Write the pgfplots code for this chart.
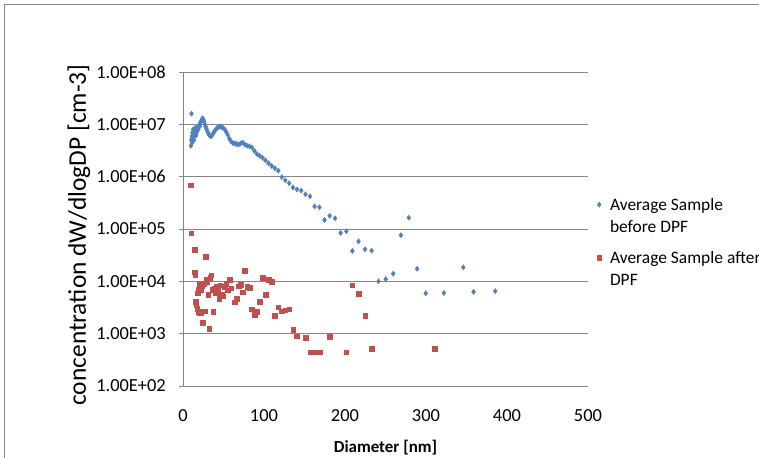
\documentclass[border=0pt]{standalone}
\usepackage{fontspec}
\setmainfont{Carlito}
\usepackage{pgfplots}
\pgfplotsset{compat=1.18}
\definecolor{bl}{HTML}{4F81BD}
\definecolor{rd}{HTML}{C0504D}
\definecolor{gr}{HTML}{868686}
\newcommand\lstrut{\rule[-6.6bp]{0pt}{22bp}}
\newcommand\lgap{\rule[-15.6bp]{0pt}{31bp}}
\begin{document}
\begin{tikzpicture}[x=1bp,y=1bp]
\clip (0,0) rectangle (759,458);
\fill[white] (0,0) rectangle (759,458);
\draw[gr, line width=1bp] (4,-10) -- (4,453) -- (770,453);
\begin{axis}[
  at={(183bp,72bp)}, anchor=south west,
  scale only axis, width=405bp, height=314bp,
  xmin=0, xmax=500, ymode=log, ymin=1e2, ymax=1e8,
  axis x line=bottom, axis y line=left,
  axis line style={-, draw=gr, line width=0.75bp},
  xtick={0,100,200,300,400,500},
  xticklabels={0,100,200,300,400,500},
  xtick style={draw=none},
  ytick={1e2,1e3,1e4,1e5,1e6,1e7,1e8},
  yticklabels={1.00E+02,1.00E+03,1.00E+04,1.00E+05,1.00E+06,1.00E+07,1.00E+08},
  yminorticks=false,
  ytick style={draw=gr, line width=0.75bp},
  tick align=outside, major tick length=4bp,
  ymajorgrids, grid style={draw=gr, line width=0.75bp},
  tick label style={font=\fontsize{18.5}{18.5}\selectfont, text=black},
  yticklabel style={anchor=east, inner sep=0pt, xshift=-13bp},
  xticklabel style={anchor=center, inner sep=0pt, yshift=-26bp},
  legend image code/.code={\draw[#1] plot coordinates {(0bp,5.5bp)};},
  legend style={at={(axis description cs:1.0215,0.6096)}, anchor=north west,
    draw=none, fill=none, inner sep=0pt, row sep=0bp, column sep=8.5bp,
    font=\fontsize{17.5}{22}\selectfont,
    nodes={inner sep=0pt, text depth=, text height=},
    cells={anchor=base west}},
]
\addplot[only marks, mark=diamond*, mark size=2.6bp, color=bl, mark options={draw=bl, fill=bl}] coordinates {
(9.82,3.9e6) (10.2,5.0e6) (10.6,1.6e7) (10.9,6.0e6) (11.3,4.5e6) (11.8,7.0e6)
(12.2,5.5e6) (12.6,8.0e6) (13.1,6.5e6) (13.6,5.0e6) (14.1,7.5e6) (14.6,6.0e6)
(15.1,8.5e6) (15.7,7.0e6) (16.3,6.2e6) (16.8,8.0e6) (17.5,7.2e6) (18.1,9.0e6)
(18.8,8.0e6) (19.5,9.5e6) (20.2,1.0e7) (20.9,9.2e6) (21.7,1.1e7) (22.5,1.15e7)
(23.3,1.25e7) (24.1,1.3e7) (25.0,1.25e7) (25.9,1.15e7) (26.9,1.0e7) (27.9,9.0e6)
(28.9,8.2e6) (30.0,7.4e6) (31.1,6.8e6) (32.2,6.3e6) (33.4,6.0e6) (34.6,5.9e6)
(35.9,6.2e6) (37.2,6.7e6) (38.5,7.2e6) (40.0,7.8e6) (41.4,8.3e6) (42.9,8.7e6)
(44.5,9.0e6) (46.1,9.1e6) (47.8,8.9e6) (49.6,8.5e6) (51.4,8.0e6) (53.3,7.2e6)
(55.2,6.3e6) (57.3,5.3e6) (59.4,4.7e6) (61.5,4.4e6) (63.8,4.3e6) (66.1,4.2e6)
(68.5,4.1e6) (71.0,4.3e6) (73.7,4.5e6) (76.4,4.1e6) (79.1,3.9e6) (82.0,3.8e6)
(85.1,3.6e6) (88.2,3.1e6) (91.4,2.7e6) (94.7,2.5e6) (98.2,2.3e6) (101.8,2.05e6)
(105.5,1.8e6) (109.4,1.6e6) (113.4,1.45e6) (117.6,1.3e6) (121.9,9.8e5) (126.3,8.5e5)
(131.0,7.5e5) (135.8,6.2e5) (140.7,5.7e5) (145.9,5.4e5) (151.2,4.6e5) (156.8,4.2e5)
(162.5,2.7e5) (168.5,2.6e5) (174.7,1.48e5) (181.1,1.78e5) (187.7,1.6e5) (194.6,8.4e4)
(201.7,9.0e4) (209.1,3.8e4) (216.7,5.8e4) (224.7,4.1e4) (232.9,3.85e4) (241.4,1.0e4)
(250.3,1.1e4) (259.5,1.4e4) (269.0,7.6e4) (278.8,1.64e5) (289.0,1.74e4) (299.6,5.9e3)
(322.0,6.0e3) (346.0,1.85e4) (358.7,6.3e3) (385.4,6.5e3)
};
\addlegendentry{\lstrut Average Sample}
\addlegendimage{empty legend}
\addlegendentry{\lgap before DPF}
\addplot[only marks, mark=square*, mark size=2.3bp, color=rd, mark options={draw=rd, fill=rd}] coordinates {
(9.82,6.9e5) (10.2,8.3e4) (14.1,4.0e4) (14.6,1.5e4) (15.1,1.3e4) (15.7,4.1e3)
(16.3,3.5e3) (17.5,3.0e3) (18.1,5.9e3) (18.8,2.6e3) (19.5,7.1e3) (20.2,2.5e3)
(20.9,9.1e3) (21.7,6.9e3) (22.5,2.5e3) (23.3,8.0e3) (24.1,1.6e3) (25.0,2.7e3)
(25.9,9.1e3) (26.9,2.7e3) (27.9,2.95e4) (28.9,1.07e4) (30.0,9.8e3) (31.1,5.5e3)
(32.2,1.26e3) (33.4,1.17e4) (34.6,1.32e4) (35.9,7.0e3) (37.2,2.6e3) (38.5,7.4e3)
(40.0,5.9e3) (41.4,8.0e3) (42.9,6.8e3) (44.5,4.7e3) (46.1,8.5e3) (47.8,5.5e3)
(49.6,5.2e3) (51.4,7.9e3) (53.3,9.1e3) (55.2,6.8e3) (57.3,1.07e4) (59.4,7.4e3)
(63.8,4.0e3) (66.1,4.6e3) (68.5,8.1e3) (71.0,8.7e3) (73.7,6.2e3) (76.4,1.6e4)
(79.1,7.9e3) (82.0,7.6e3) (85.1,2.95e3) (88.2,2.3e3) (91.4,2.6e3) (94.7,4.1e3)
(98.2,1.17e4) (101.8,5.5e3) (105.5,1.07e4) (109.4,9.8e3) (113.4,2.2e3) (117.6,3.2e3)
(121.9,2.7e3) (126.3,2.8e3) (131.0,2.95e3) (135.8,1.2e3) (140.7,9.0e2) (151.2,8.3e2)
(156.8,4.4e2) (162.5,4.4e2) (168.5,4.4e2) (181.1,8.7e2) (201.7,4.4e2) (209.1,8.5e3)
(216.7,5.8e3) (224.7,2.2e3) (232.9,5.1e2) (310.6,5.1e2)
};
\addlegendentry{\lstrut Average Sample after}
\addlegendimage{empty legend}
\addlegendentry{\lstrut DPF}
\end{axis}
\node[rotate=90, font=\fontsize{25.5}{25.5}\selectfont, inner sep=0pt] at (79,223) {concentration dW/dlogDP [cm-3]};
\node[font=\bfseries\fontsize{17}{17}\selectfont, inner sep=0pt] at (385.5,10) {Diameter [nm]};
\end{tikzpicture}
\end{document}
